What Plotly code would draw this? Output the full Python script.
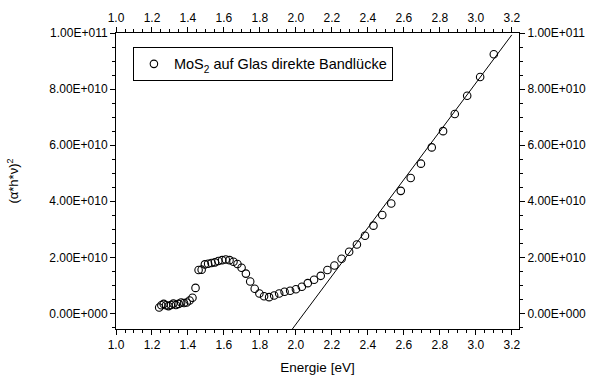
import plotly.graph_objects as go

# Photon energy (eV) of each measured point
energy = [1.240, 1.252, 1.265, 1.278, 1.292, 1.305, 1.319, 1.333, 1.348, 1.362,
          1.378, 1.393, 1.409, 1.425, 1.442, 1.459, 1.476, 1.494, 1.512, 1.531,
          1.550, 1.569, 1.590, 1.610, 1.631, 1.653, 1.675, 1.698, 1.722, 1.746,
          1.771, 1.797, 1.823, 1.851, 1.879, 1.907, 1.937, 1.968, 2.000, 2.033,
          2.066, 2.101, 2.138, 2.175, 2.214, 2.254, 2.296, 2.339, 2.384, 2.431,
          2.480, 2.530, 2.583, 2.638, 2.695, 2.755, 2.818, 2.883, 2.952, 3.024,
          3.100]

# (alpha*h*nu)^2 values
alpha_hv_sq = [2.1e9, 2.9e9, 3.4e9, 2.9e9, 2.6e9, 3.0e9, 3.5e9, 3.0e9, 3.4e9, 3.9e9,
               3.7e9, 3.9e9, 4.6e9, 5.6e9, 9.1e9, 15.5e9, 15.6e9, 17.5e9, 17.7e9, 18.0e9,
               18.2e9, 18.7e9, 19.0e9, 19.2e9, 19.0e9, 18.4e9, 17.6e9, 16.3e9, 14.2e9, 11.4e9,
               8.8e9, 7.1e9, 6.1e9, 5.8e9, 6.4e9, 7.1e9, 7.7e9, 8.1e9, 8.6e9, 9.5e9,
               10.8e9, 12.0e9, 13.4e9, 15.5e9, 17.1e9, 19.5e9, 22.0e9, 24.6e9, 27.7e9, 31.3e9,
               35.1e9, 39.2e9, 43.7e9, 48.3e9, 53.4e9, 59.2e9, 65.0e9, 71.1e9, 77.6e9, 84.3e9,
               92.4e9]

# Linear fit (direct band gap extrapolation)
fit_slope = 8.6e10        # per eV
fit_gap = 2.045           # eV, x-intercept
fit_x = [1.98, 3.20]
fit_y = [fit_slope * (e - fit_gap) for e in fit_x]

# Axis tick labels
y_tickvals = [0, 2e10, 4e10, 6e10, 8e10, 1e11]
y_ticktext = ["0.00E+000", "2.00E+010", "4.00E+010", "6.00E+010", "8.00E+010", "1.00E+011"]

legend_name = "MoS<sub>2</sub> auf Glas direkte Bandlücke"
x_title = "Energie [eV]"
y_title = "(α*h*ν)<sup>2</sup>"

x_range = [1.0, 3.24]
y_range = [-5.56e9, 1.0e11]

FONT = "Liberation Sans, Arial, sans-serif"

fig = go.Figure()
fig.add_trace(go.Scatter(
    x=energy, y=alpha_hv_sq, mode="markers", name=legend_name,
    marker=dict(symbol="circle-open", size=7.5, color="black", line=dict(width=1.1, color="black")),
))
fig.add_trace(go.Scatter(
    x=fit_x, y=fit_y, mode="lines", showlegend=False,
    line=dict(color="black", width=1),
))
# anchor trace for the mirrored top/right axes (invisible)
fig.add_trace(go.Scatter(
    x=energy[:1], y=alpha_hv_sq[:1], xaxis="x2", yaxis="y2", mode="markers",
    marker=dict(opacity=0), showlegend=False, hoverinfo="skip",
))

tick_font = dict(family=FONT, size=12, color="black")
common_x = dict(range=x_range, tick0=1.0, dtick=0.2, tickformat=".1f", automargin=False,
                ticks="outside", ticklen=5, tickwidth=1, tickcolor="black",
                showline=True, linecolor="black", linewidth=1,
                showgrid=False, zeroline=False, tickfont=tick_font,
                minor=dict(tick0=1.0, dtick=0.05, ticks="outside", ticklen=3,
                           tickwidth=1, tickcolor="black", showgrid=False))
common_y = dict(range=y_range, tickmode="array", tickvals=y_tickvals, ticktext=y_ticktext,
                automargin=False,
                ticks="outside", ticklen=5, tickwidth=1, tickcolor="black",
                showline=True, linecolor="black", linewidth=1,
                showgrid=False, zeroline=False, tickfont=tick_font,
                minor=dict(tick0=0, dtick=5e9, ticks="outside", ticklen=3,
                           tickwidth=1, tickcolor="black", showgrid=False))

fig.update_layout(
    width=592, height=380, autosize=False,
    margin=dict(l=116, r=73, t=33, b=51),
    paper_bgcolor="white", plot_bgcolor="white",
    font=dict(family=FONT, size=13, color="black"),
    xaxis=dict(**common_x, title=dict(text=x_title, font=dict(family=FONT, size=13.5), standoff=11)),
    xaxis2=dict(**common_x, overlaying="x", side="top", anchor="y"),
    yaxis=dict(**common_y, title=dict(text=y_title, font=dict(family=FONT, size=13), standoff=27)),
    yaxis2=dict(**common_y, overlaying="y", side="right", anchor="x"),
    legend=dict(x=0.042, y=0.953, xanchor="left", yanchor="top",
                bordercolor="black", borderwidth=1, bgcolor="white",
                font=dict(family=FONT, size=14.5)),
    showlegend=True,
)

fig.write_html("out.html")
